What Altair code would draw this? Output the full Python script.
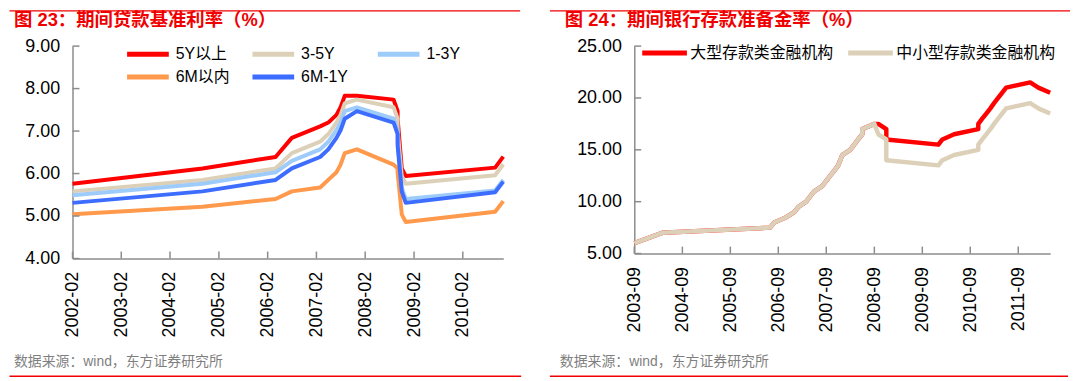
import altair as alt
import pandas as pd

# ---------------- Left panel: loan benchmark rates ----------------
left_months = ["2002-02", "2004-10", "2006-04", "2006-08", "2007-03", "2007-05",
               "2007-07", "2007-08", "2007-09", "2007-12", "2008-09", "2008-10",
               "2008-10", "2008-11", "2008-12", "2010-10", "2010-12"]
rate_5y_plus = [5.76, 6.12, 6.39, 6.84, 7.11, 7.20, 7.38, 7.56, 7.83, 7.83, 7.74, 7.47, 7.29, 6.12, 5.94, 6.14, 6.40]
rate_3_5y = [5.58, 5.85, 6.12, 6.48, 6.75, 6.93, 7.20, 7.38, 7.65, 7.74, 7.56, 7.29, 7.02, 5.94, 5.76, 5.96, 6.22]
rate_1_3y = [5.49, 5.76, 6.03, 6.30, 6.57, 6.75, 7.02, 7.20, 7.47, 7.56, 7.29, 7.02, 6.75, 5.67, 5.40, 5.60, 5.85]
rate_6m = [5.04, 5.22, 5.40, 5.58, 5.67, 5.85, 6.03, 6.21, 6.48, 6.57, 6.21, 6.12, 6.03, 5.04, 4.86, 5.10, 5.35]
rate_6m_1y = [5.31, 5.58, 5.85, 6.12, 6.39, 6.57, 6.84, 7.02, 7.29, 7.47, 7.20, 6.93, 6.66, 5.58, 5.31, 5.56, 5.81]
left_names = ["5Y以上", "3-5Y", "1-3Y", "6M以内", "6M-1Y"]
left_colors = ["#FF0000", "#DDD0B8", "#9DCBFA", "#FF9A4D", "#3D6DFF"]
left_tick_years = [2002, 2003, 2004, 2005, 2006, 2007, 2008, 2009, 2010]
left_y_ticks = [4, 5, 6, 7, 8, 9]
left_title = "图 23：期间贷款基准利率（%）"

# ---------------- Right panel: reserve requirement ratio ----------------
right_months = ["2003-09", "2004-04", "2006-07", "2006-08", "2006-11", "2007-01", "2007-02",
                "2007-04", "2007-05", "2007-06", "2007-08", "2007-09", "2007-10", "2007-11",
                "2007-12", "2008-01", "2008-03", "2008-04", "2008-05", "2008-06", "2008-06",
                "2008-09", "2008-10", "2008-12", "2008-12", "2010-01", "2010-02", "2010-05",
                "2010-11", "2010-11", "2010-12", "2011-01", "2011-02", "2011-03", "2011-04",
                "2011-05", "2011-06", "2011-12", "2012-02", "2012-05"]
rrr_large = [6.0, 7.0, 7.5, 8.0, 8.5, 9.0, 9.5, 10.0, 10.5, 11.0, 11.5, 12.0, 12.5, 13.0,
             13.5, 14.5, 15.0, 15.5, 16.0, 16.5, 17.0, 17.5, 17.5, 17.0, 16.0, 15.5, 16.0,
             16.5, 17.0, 17.5, 18.0, 18.5, 19.0, 19.5, 20.0, 20.5, 21.0, 21.5, 21.0, 20.5]
rrr_small = [6.0, 7.0, 7.5, 8.0, 8.5, 9.0, 9.5, 10.0, 10.5, 11.0, 11.5, 12.0, 12.5, 13.0,
             13.5, 14.5, 15.0, 15.5, 16.0, 16.5, 17.0, 17.5, 16.5, 16.0, 14.0, 13.5, 14.0,
             14.5, 15.0, 15.5, 16.0, 16.5, 17.0, 17.5, 18.0, 18.5, 19.0, 19.5, 19.0, 18.5]
right_names = ["大型存款类金融机构", "中小型存款类金融机构"]
right_colors = ["#FF0000", "#DDD0B8"]
right_tick_years = [2003, 2004, 2005, 2006, 2007, 2008, 2009, 2010, 2011]
right_y_ticks = [5, 10, 15, 20, 25]
right_title = "图 24：期间银行存款准备金率（%）"

source_text = "数据来源：wind，东方证券研究所"

NUMF = "Liberation Sans"
MIX = "Liberation Sans, Noto Sans CJK SC"
AXIS_GRAY = "#8c8c8c"
RED = "#F00000"


def long_df(months, names, series):
    rows = []
    for name, vals in zip(names, series):
        for i, (m, v) in enumerate(zip(months, vals)):
            rows.append({"date": m + "-01", "value": v, "series": name, "idx": i})
    return pd.DataFrame(rows)


def panel(df, names, colors, x_dom, tick_years, tick_month, y_dom, y_ticks,
          W, H, line_w, legend, title, deco):
    xs = alt.Scale(type="utc", domain=x_dom, nice=False)
    ys = alt.Scale(domain=y_dom, nice=False, zero=False)
    tick_vals = [alt.DateTime(year=y, month=tick_month, date=1, utc=True) for y in tick_years]
    x_axis = alt.Axis(
        values=tick_vals, labelExpr="utcFormat(datum.value, '%Y-%m')",
        labelAngle=270, labelFont=NUMF, labelFontSize=18, labelColor="#000000",
        labelPadding=13, ticks=False, tickSize=0, domainColor=AXIS_GRAY,
        domainWidth=1.5, grid=False, title=None, labelFlush=False,
        labelOverlap=False)
    y_axis = alt.Axis(
        values=y_ticks, format=".2f", labelFont=NUMF, labelFontSize=18,
        labelColor="#000000", labelPadding=13, ticks=False, tickSize=0,
        domainColor=AXIS_GRAY, domainWidth=1.5, grid=False, title=None,
        labelFlush=False, labelOverlap=False)

    lines = alt.Chart(df).mark_line(strokeWidth=line_w, strokeJoin="round").encode(
        x=alt.X("date:T", scale=xs, axis=x_axis),
        y=alt.Y("value:Q", scale=ys, axis=y_axis),
        color=alt.Color("series:N", scale=alt.Scale(domain=names, range=colors), legend=legend),
        order=alt.Order("idx:Q"),
    )

    xt_df = pd.DataFrame({"date": [f"{y}-{tick_month:02d}-01" for y in tick_years]})
    xticks = alt.Chart(xt_df).mark_rule(color=AXIS_GRAY, strokeWidth=1.5).encode(
        x=alt.X("date:T", scale=xs, axis=x_axis), y=alt.value(H - 7), y2=alt.value(H))
    yt_df = pd.DataFrame({"value": y_ticks})
    yticks = alt.Chart(yt_df).mark_rule(color=AXIS_GRAY, strokeWidth=1.5).encode(
        y=alt.Y("value:Q", scale=ys, axis=y_axis), x=alt.value(0), x2=alt.value(7))

    t = alt.Chart(pd.DataFrame({"t": [title]})).mark_text(
        align="left", baseline="middle", font=MIX, fontSize=18.5, fontWeight="bold", color=RED
    ).encode(text="t:N", x=alt.value(deco["tx"]), y=alt.value(-26))
    foot = alt.Chart(pd.DataFrame({"t": [source_text]})).mark_text(
        align="left", baseline="middle", font=MIX, fontSize=14, color="#7f7f7f"
    ).encode(text="t:N", x=alt.value(deco["fx"]), y=alt.value(318.8))
    rtop = alt.Chart(pd.DataFrame({"a": [0]})).mark_rule(color=RED, strokeWidth=1.5).encode(
        x=alt.value(deco["r1"]), x2=alt.value(deco["r2"]), y=alt.value(-35.5))
    rbot = alt.Chart(pd.DataFrame({"a": [0]})).mark_rule(color=RED, strokeWidth=1.5).encode(
        x=alt.value(deco["r1"]), x2=alt.value(deco["r2b"]), y=alt.value(332.6))

    return alt.layer(lines, xticks, yticks, t, foot, rtop, rbot).properties(width=W, height=H)


left_df = long_df(left_months, left_names,
                  [rate_5y_plus, rate_3_5y, rate_1_3y, rate_6m, rate_6m_1y])
right_df = long_df(right_months, right_names, [rrr_large, rrr_small])

# long thin line symbol drawn from a short-size path so rows can sit close together
left_legend = alt.Legend(orient="none", legendX=52.5, legendY=-4.8, columns=3, gridAlign="all",
                         direction="horizontal",
                         symbolType="M-2,0H2", symbolSize=441, symbolStrokeWidth=5,
                         symbolOffset=10.5,
                         labelFont=MIX, labelFontSize=16, labelColor="#000000",
                         labelOffset=15, columnPadding=12.3, rowPadding=0, padding=0,
                         title=None, labelLimit=400)
right_legend = alt.Legend(orient="none", legendX=5.5, legendY=-18, columns=2, gridAlign="each",
                          direction="horizontal",
                          symbolType="stroke", symbolSize=2025, symbolStrokeWidth=5,
                          labelFont=MIX, labelFontSize=16, labelColor="#000000",
                          labelOffset=1, columnPadding=3.5, rowPadding=0, padding=0,
                          title=None, labelLimit=400)

left = panel(left_df, left_names, left_colors,
             [alt.DateTime(year=2002, month=2, date=1, utc=True),
              alt.DateTime(year=2010, month=12, date=1, utc=True)],
             left_tick_years, 2, [4, 9], left_y_ticks, 434, 214, 4, left_legend, left_title,
             {"tx": -59, "fx": -59, "r1": -63.5, "r2": 451, "r2b": 452})

right = panel(right_df, right_names, right_colors,
              [alt.DateTime(year=2003, month=9, date=1, utc=True),
               alt.DateTime(year=2012, month=5, date=1, utc=True)],
              right_tick_years, 9, [5, 25], right_y_ticks, 419, 209, 4.5, right_legend, right_title,
              {"tx": -70, "fx": -75, "r1": -85, "r2": 439, "r2b": 437})

chart = alt.hconcat(left, right, spacing=132, bounds="flush").resolve_scale(
    color="independent").configure_view(stroke="transparent").properties(padding=0)

chart.save("out.html", embed_options={"renderer": "svg", "actions": False})
